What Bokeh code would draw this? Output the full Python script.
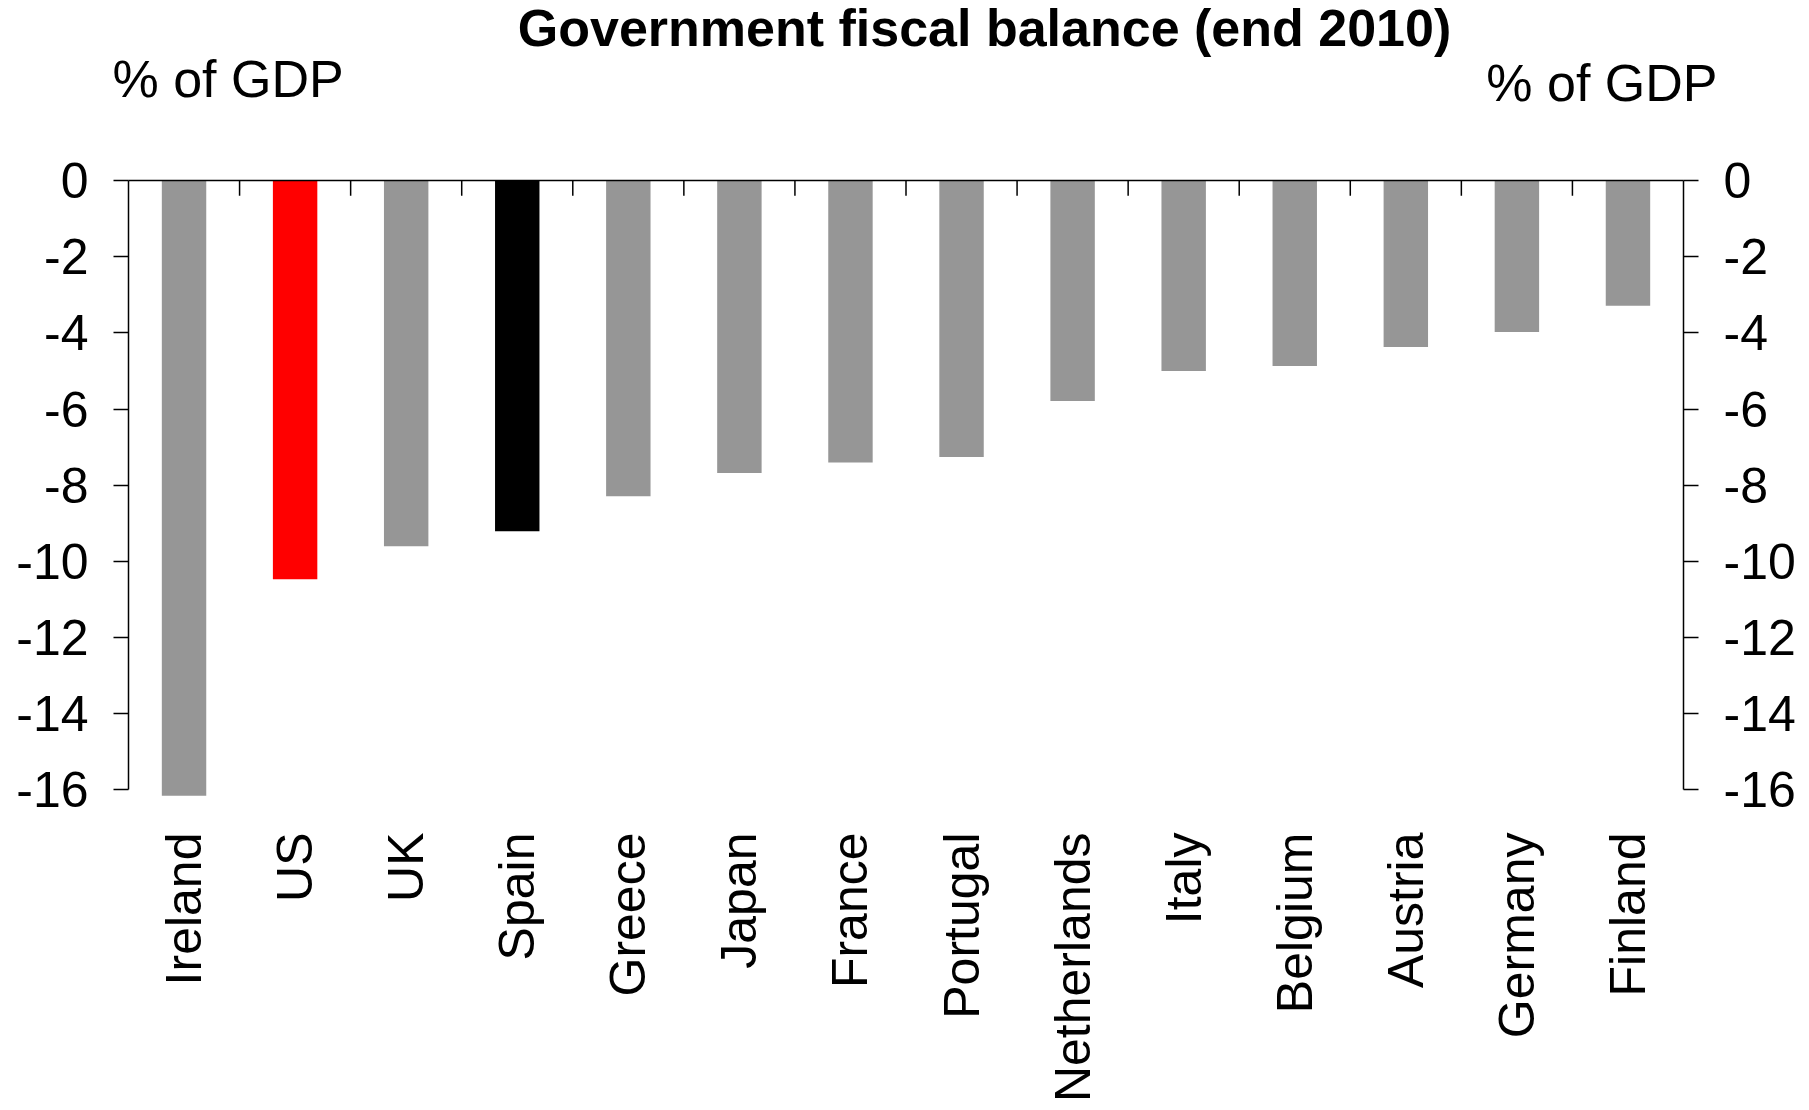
from bokeh.plotting import figure
from bokeh.models import (Range1d, FactorRange, LinearAxis, CategoricalAxis, FixedTicker,
                          Label, ColumnDataSource, CustomJSTickFormatter)
from bokeh.transform import dodge
from bokeh.embed import file_html
from bokeh.resources import INLINE
import math

countries = ["Ireland", "US", "UK", "Spain", "Greece", "Japan", "France", "Portugal",
             "Netherlands", "Italy", "Belgium", "Austria", "Germany", "Finland"]
balance = [-16.15, -10.47, -9.60, -9.21, -8.29, -7.68, -7.40, -7.26,
           -5.79, -5.00, -4.87, -4.37, -3.98, -3.29]
bar_colors = ["#969696", "#FF0000", "#969696", "#000000", "#969696", "#969696", "#969696",
              "#969696", "#969696", "#969696", "#969696", "#969696", "#969696", "#969696"]
y_ticks = [0, -2, -4, -6, -8, -10, -12, -14, -16]
title_text = "Government fiscal balance (end 2010)"
unit_text = "% of GDP"

FONT = "Liberation Sans"
W = 1800
TOP_H = 150

# ---- header strip with the title and the unit texts ----
head = figure(width=W, height=TOP_H, output_backend="svg", toolbar_location=None,
              x_range=Range1d(0, 1), y_range=Range1d(0, 1),
              x_axis_location=None, y_axis_location=None,
              min_border_left=0, min_border_right=0, min_border_top=0, min_border_bottom=0)
head.outline_line_color = None
head.grid.visible = False
head.add_layout(Label(x=984, y=TOP_H - 27, x_units="screen", y_units="screen",
                      text=title_text, text_font=FONT, text_font_style="bold",
                      text_font_size="52px", text_align="center", text_baseline="middle",
                      text_color="black"))
head.add_layout(Label(x=112, y=TOP_H - 78, x_units="screen", y_units="screen",
                      text=unit_text, text_font=FONT, text_font_size="52px",
                      text_align="left", text_baseline="middle", text_color="black"))
head.add_layout(Label(x=1717, y=TOP_H - 82, x_units="screen", y_units="screen",
                      text=unit_text, text_font=FONT, text_font_size="52px",
                      text_align="right", text_baseline="middle", text_color="black"))

# ---- main chart ----
p = figure(frame_width=1555, frame_height=619, output_backend="svg", toolbar_location=None,
           x_range=FactorRange(*countries, range_padding=0),
           y_range=Range1d(-16.25, 0),
           x_axis_location=None, y_axis_location=None,
           min_border_left=128, min_border_right=W - 1683,
           min_border_top=30, min_border_bottom=0)
p.outline_line_color = None
p.grid.visible = False

src = ColumnDataSource(dict(c=countries, v=balance, col=bar_colors))
p.vbar(x="c", top=0, bottom="v", width=0.4, fill_color="col", line_color=None, source=src)

# tick marks on the zero line, between categories
edge_src = ColumnDataSource(dict(c=countries[:-1]))
tick_len = 0.4  # data units (~15 px)
p.segment(x0=dodge("c", 0.5, range=p.x_range), x1=dodge("c", 0.5, range=p.x_range),
          y0=0, y1=-tick_len, line_color="black", line_width=1.5, source=edge_src)

fmt = CustomJSTickFormatter(code="return tick.toString();")

def yaxis(side):
    ax = LinearAxis(ticker=FixedTicker(ticks=y_ticks), bounds=(-16, 0), formatter=fmt)
    ax.axis_line_color = "black"
    ax.axis_line_width = 1.5
    ax.major_tick_line_color = "black"
    ax.major_tick_line_width = 1.5
    ax.major_tick_out = 15
    ax.major_tick_in = 0
    ax.minor_tick_line_color = None
    ax.major_label_text_font = FONT
    ax.major_label_text_font_size = "50px"
    ax.major_label_text_color = "black"
    ax.major_label_standoff = 25
    p.add_layout(ax, side)

yaxis("left")
yaxis("right")

top = CategoricalAxis()
top.axis_line_color = "black"
top.axis_line_width = 1.5
top.major_tick_line_color = None
top.minor_tick_line_color = None
top.major_label_text_font_size = "0px"
top.major_label_text_color = None
top.major_label_standoff = 0
p.add_layout(top, "above")

bottom = CategoricalAxis()
bottom.axis_line_color = None
bottom.major_tick_line_color = None
bottom.minor_tick_line_color = None
bottom.major_label_orientation = math.pi / 2
bottom.major_label_text_font = FONT
bottom.major_label_text_font_size = "50px"
bottom.major_label_text_color = "black"
bottom.major_label_standoff = 27
p.add_layout(bottom, "below")

open("out.html", "w").write(file_html([head, p], INLINE))
